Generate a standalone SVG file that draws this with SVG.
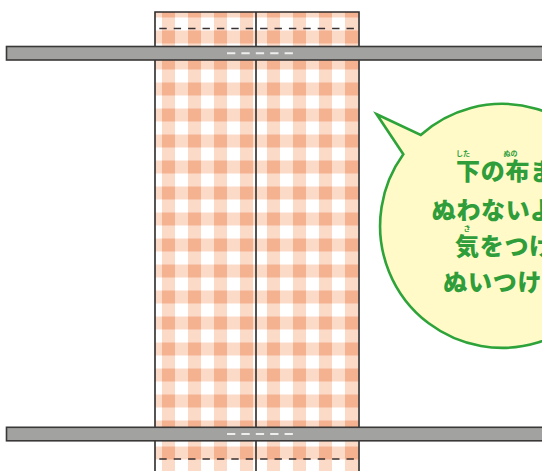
<svg xmlns="http://www.w3.org/2000/svg" width="542" height="471" viewBox="0 0 542 471">
  <style>
    .outline { fill: none; stroke: #2d2a2a; stroke-width: 1.6; }
    .seam { fill: none; stroke: #3a3232; stroke-width: 1.5; stroke-dasharray: 7.4 7; }
    .band { fill: #a2a3a1; stroke: #3b3838; stroke-width: 1.6; }
    .bandmark { fill: none; stroke: #eeeeee; stroke-width: 2; stroke-dasharray: 8.3 6.1; }
    .bubble { fill: #fffac8; stroke: #2ea33a; stroke-width: 2.6; stroke-linejoin: miter; }
    .msg { font-family: "Noto Sans CJK JP", "Noto Sans", sans-serif; font-weight: 900; fill: #2e9d3a; font-size: 24px; letter-spacing: 0.7px; }
    .ruby { font-family: "Noto Sans CJK JP", "Noto Sans", sans-serif; font-weight: bold; fill: #2e9d3a; font-size: 7px; }
  </style>
  <defs>
    <pattern id="ginghamA" x="162" y="4.5" width="26" height="26" patternUnits="userSpaceOnUse">
      <rect width="26" height="26" fill="#ffffff"/>
      <rect width="13" height="26" fill="#fbdac8"/>
      <rect width="26" height="13" fill="#fbdac8"/>
      <rect width="13" height="13" fill="#f5b291"/>
    </pattern>
    <pattern id="ginghamB" x="267" y="4.5" width="26" height="26" patternUnits="userSpaceOnUse">
      <rect width="26" height="26" fill="#ffffff"/>
      <rect width="13" height="26" fill="#fbdac8"/>
      <rect width="26" height="13" fill="#fbdac8"/>
      <rect width="13" height="13" fill="#f5b291"/>
    </pattern>
  </defs>

  <g id="fabric">
    <rect x="155" y="12" width="101" height="470" fill="url(#ginghamA)"/>
    <rect x="256" y="12" width="103" height="470" fill="url(#ginghamB)"/>
    <path class="outline" d="M155 482 V12 H359 V482 M256 12 V482"/>
    <line class="seam" x1="159.3" y1="28.5" x2="354" y2="28.5"/>
    <line class="seam" x1="159.3" y1="459" x2="354" y2="459"/>
  </g>

  <g id="band-top">
    <rect class="band" x="6.5" y="46.5" width="540" height="13.5"/>
    <line class="bandmark" x1="227" y1="53.3" x2="293" y2="53.3"/>
  </g>

  <g id="band-bottom">
    <rect class="band" x="6.5" y="427.3" width="540" height="13.5"/>
    <line class="bandmark" x1="227" y1="434" x2="293" y2="434"/>
  </g>

  <g id="speech-bubble">
    <path class="bubble" d="M376.7 114.3 L420.7 135 A122 122 0 1 1 403.3 154.3 Z"/>
    <text class="ruby" x="456" y="155.5">した</text>
    <text class="ruby" x="503.5" y="155.5">ぬの</text>
    <text class="msg" x="456" y="180">下の布ま</text>
    <text class="msg" x="431.7" y="218.5">ぬわないよ</text>
    <text class="ruby" x="467" y="231" text-anchor="middle">き</text>
    <text class="msg" x="455" y="255">気をつけ</text>
    <text class="msg" x="443.3" y="291">ぬいつけよ</text>
  </g>
</svg>
